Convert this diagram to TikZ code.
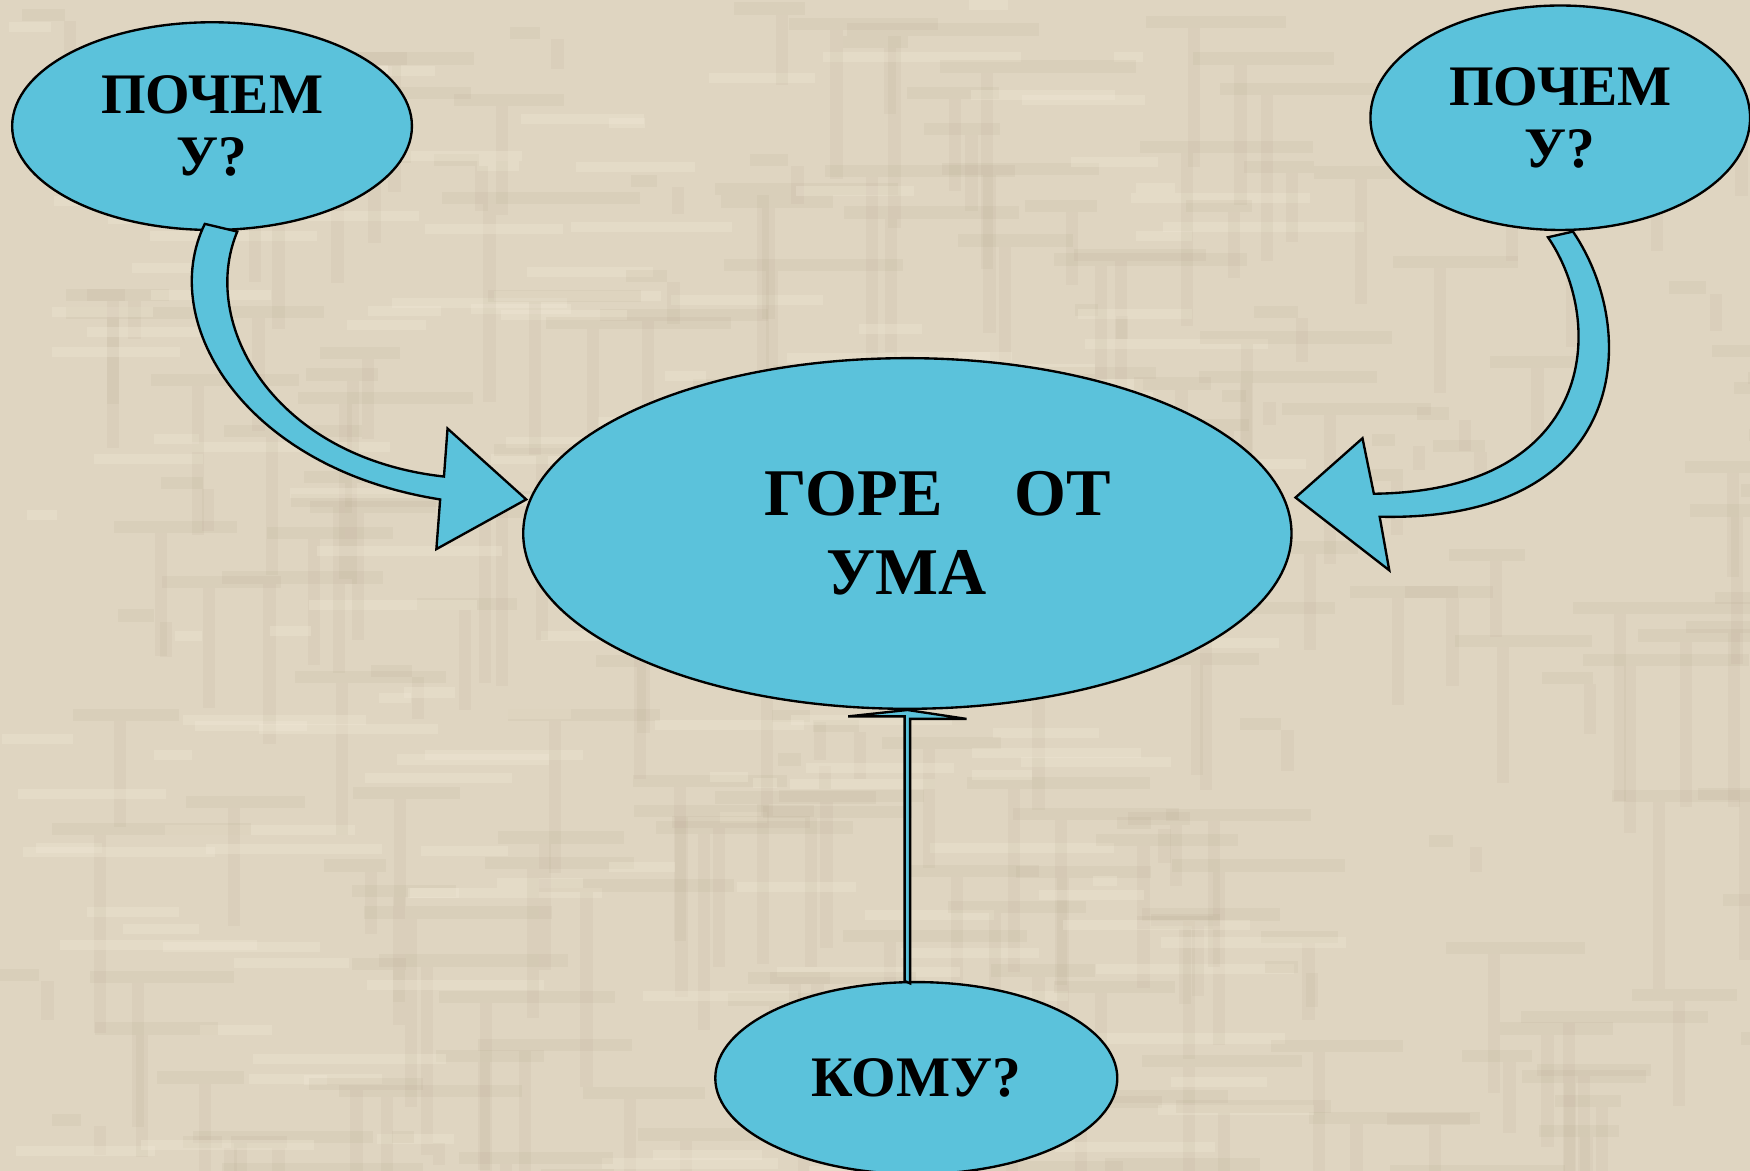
\documentclass[tikz,border=0pt]{standalone}
\usepackage{fontspec}
\setmainfont{Liberation Serif}
\usetikzlibrary{shapes.geometric}
\definecolor{bgpaper}{RGB}{223,213,193}
\definecolor{paperdark}{RGB}{170,155,130}
\definecolor{paperlight}{RGB}{244,236,218}
\definecolor{bubblefill}{RGB}{91,194,219}
\tikzset{
  bubble/.style={ellipse,draw=black,line width=0.6pt,fill=bubblefill,inner sep=0pt,align=center,
    font=\bfseries\fontsize{14.6}{15.9}\selectfont},
  blockarrow/.style={draw=black,line width=0.6pt,fill=bubblefill,line join=miter},
}
\begin{document}
\begin{tikzpicture}[x=0.01cm,y=-0.01cm,line join=bevel]
\useasboundingbox (0,0) rectangle (1568,1049);
\clip (0,0) rectangle (1568,1049);
\fill [bgpaper] (0,0) rectangle (1568,1049);
% paper grain
\pgfmathsetseed{17}
\foreach \i in {1,...,220} {
  \pgfmathsetmacro{\px}{random(0,1568)}
  \pgfmathsetmacro{\py}{random(0,1049)}
  \pgfmathsetmacro{\len}{random(20,180)}
  \fill [paperdark,opacity=0.10] (\px,\py) rectangle ++(\len,11);
  \fill [paperlight,opacity=0.28] (\py,\px) rectangle ++(\len,9);
  \fill [paperdark,opacity=0.09] (\px+37,\py+11) rectangle ++(11,\len);
}
%%
\node (node_0) at (813,478) [bubble,minimum width=6.88cm,minimum height=3.14cm,align=left,font=\bfseries\fontsize{17}{20}\selectfont] {\hspace*{0.55cm}ГОРЕ\hspace{1.08em}ОТ\\\hspace*{1.1cm}УМА};
  \node (node_1) at (190,113) [bubble,minimum width=3.58cm,minimum height=1.86cm] {ПОЧЕМ\\У?};
  \node (node_2) at (1398,105.5) [bubble,minimum width=3.40cm,minimum height=2.01cm] {ПОЧЕМ\\У?};
  \node (node_3) at (821,966) [bubble,minimum width=3.60cm,minimum height=1.72cm] {КОМУ?};
  \draw [blockarrow] (183.5,200.6) .. controls (140,290) and (220,420) .. (394.4,447.5) -- (391,492) -- (471.5,447.5) -- (401,384) -- (397.8,427) .. controls (245,410) and (178,290) .. (212.6,207.5) -- cycle;
  \draw [blockarrow] (1409.4,207.5) .. controls (1472,300) and (1458,468) .. (1236.2,463) -- (1244.8,511) -- (1160.8,445.8) -- (1220.8,392.7) -- (1231,442.4) .. controls (1430,440) and (1440,290) .. (1387,212.6) -- cycle;
  \draw [blockarrow] (node_0.south |- node_3.north) ++(-2.5,0) -- ++(0,-237) -- ++(-50.5,0) -- (node_0.south) -- ++(53,8) -- ++(-50.5,0) -- ++(0,237) -- cycle;
%
\end{tikzpicture}
\end{document}
